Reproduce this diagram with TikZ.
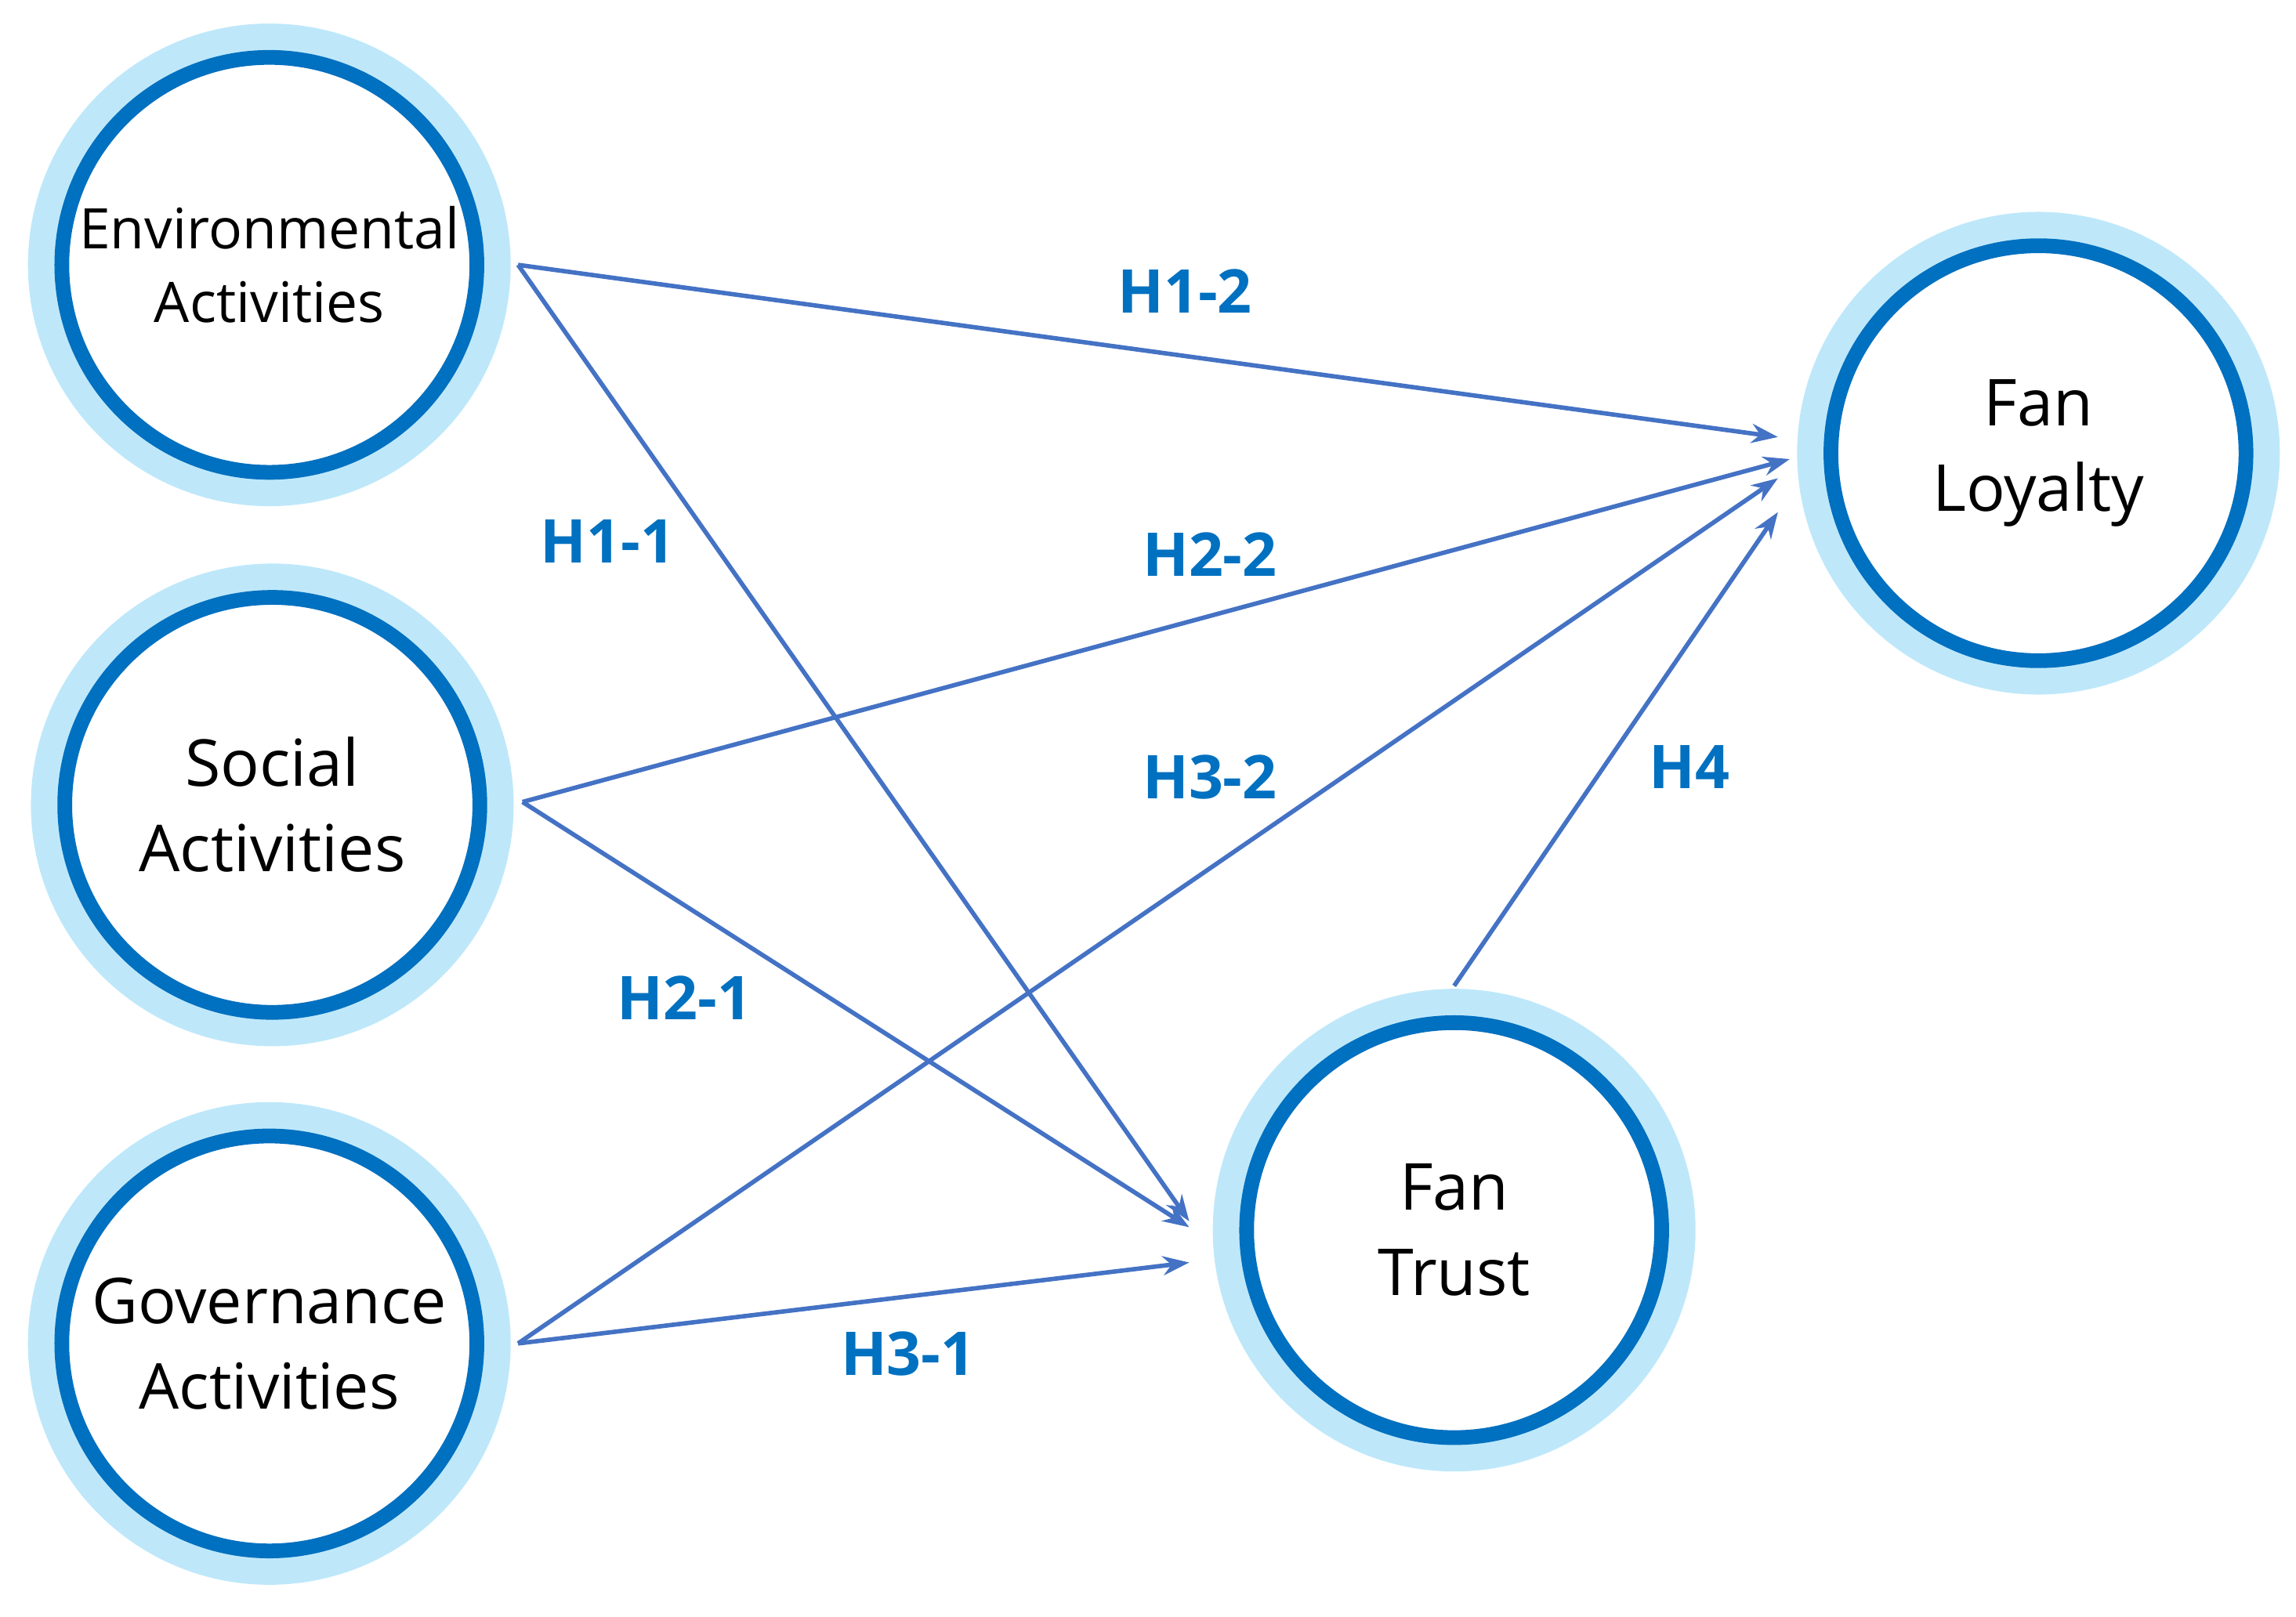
\documentclass[tikz,border=0pt]{standalone}
\usepackage{fontspec}
\setmainfont{Open Sans}
\usetikzlibrary{arrows.meta}
\definecolor{lb}{RGB}{190,232,250}
\definecolor{db}{RGB}{0,112,192}
\definecolor{ln}{RGB}{68,114,196}
\begin{document}
\begin{tikzpicture}[x=1pt,y=-1pt,
  cst/.style={circle,draw=db,line width=10pt,fill=white,minimum size=282pt,align=center,inner sep=0pt,
     preaction={draw=lb,line width=46pt}},
  ar/.style={draw=ln,line width=3pt,-{Stealth[length=18pt,width=13pt]}},
  lab/.style={text=db,font=\bfseries\fontsize{41}{48}\selectfont}]
\useasboundingbox (0,0) rectangle (1560,1098.4);
\node[cst,font=\fontsize{38}{50}\selectfont] (env) at (183,180) {Environmental\\Activities};
\node[cst,font=\fontsize{44}{58}\selectfont] (soc) at (185,547) {Social\\Activities};
\node[cst,font=\fontsize{43}{58}\selectfont] (gov) at (183,913) {Governance\\Activities};
\node[cst,font=\fontsize{44}{58}\selectfont] (fl) at (1385,308) {Fan\\Loyalty};
\node[cst,font=\fontsize{44}{58}\selectfont] (ft) at (988,836) {Fan\\Trust};
\coordinate (e0) at (352,180);
\coordinate (s0) at (355,545);
\coordinate (g0) at (352,913);
\coordinate (t0) at (988,670);
\coordinate (l1) at (1208,297);
\coordinate (l2) at (1216,312);
\coordinate (l3) at (1208,325);
\coordinate (l4) at (1208,348);
\coordinate (f1) at (808,830);
\coordinate (f2) at (808,834);
\coordinate (f3) at (808,858);
\draw[ar] (e0) -- (l1);
\draw[ar] (e0) -- (f1);
\draw[ar] (s0) -- (l2);
\draw[ar] (s0) -- (f2);
\draw[ar] (g0) -- (l3);
\draw[ar] (g0) -- (f3);
\draw[ar] (t0) -- (l4);
\node[lab] (h12) at (805,198) {H1-2};
\node[lab] (h11) at (413,368) {H1-1};
\node[lab] (h22) at (822,377) {H2-2};
\node[lab] (h32) at (822,528) {H3-2};
\node[lab] (h4) at (1148,521) {H4};
\node[lab] (h21) at (465,678) {H2-1};
\node[lab] (h31) at (617,920) {H3-1};
\end{tikzpicture}
\end{document}
